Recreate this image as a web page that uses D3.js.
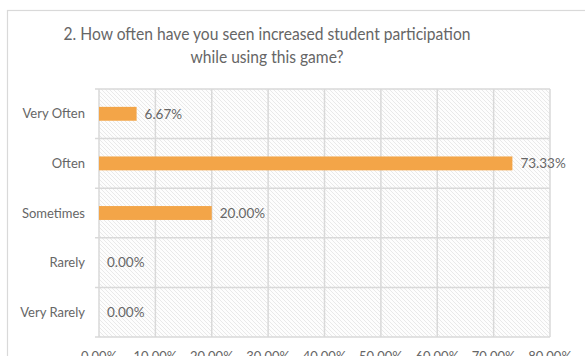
<!DOCTYPE html>
<html>
<head>
<meta charset="utf-8">
<script src="https://cdn.jsdelivr.net/npm/d3@7"></script>
<style>
  html, body { margin: 0; padding: 0; background: #fff; overflow: hidden; }
  svg { display: block; font-family: Lato, "Open Sans", sans-serif; }
</style>
</head>
<body>
<svg id="chart" width="585" height="356"></svg>
<script>
// Survey responses: share of respondents per answer
const categories = ["Very Often", "Often", "Sometimes", "Rarely", "Very Rarely"];
const values = [0.0667, 0.7333, 0.20, 0.0, 0.0];
const valueLabels = ["6.67%", "73.33%", "20.00%", "0.00%", "0.00%"];
const xTicks = [0, 0.1, 0.2, 0.3, 0.4, 0.5, 0.6, 0.7, 0.8];
const titleLines = ["2. How often have you seen increased student participation", "while using this game?"];

const svg = d3.select("#chart");
const textColor = "#666666";
const gridColor = "#d9d9d9";
const barColor = "#f3a548";

const plot = { left: 99, right: 550, top: 89, bottom: 337 };

// Chart frame
svg.append("rect")
  .attr("x", 7.5).attr("y", 10.5)
  .attr("width", 600).attr("height", 400)
  .attr("fill", "#fff").attr("stroke", gridColor).attr("stroke-width", 1.2);

// Diagonal hatch fill for the plot area
const defs = svg.append("defs");
const pat = defs.append("pattern")
  .attr("id", "hatch").attr("patternUnits", "userSpaceOnUse")
  .attr("width", 4).attr("height", 4);
pat.append("rect").attr("width", 4).attr("height", 4).attr("fill", "#fdfdfd");
pat.append("path")
  .attr("d", "M-1,-1 L5,5 M-1,3 L1,5 M3,-1 L5,1")
  .attr("stroke", "#e6e6e6").attr("stroke-width", 0.9);

const x = d3.scaleLinear().domain([0, 0.8]).range([plot.left, plot.right]);
const y = d3.scaleBand().domain(categories).range([plot.top, plot.bottom]).paddingInner(0.72).paddingOuter(0.36);
const band = d3.scaleBand().domain(categories).range([plot.top, plot.bottom]);

svg.append("rect")
  .attr("x", plot.left).attr("y", plot.top)
  .attr("width", plot.right - plot.left).attr("height", plot.bottom - plot.top)
  .attr("fill", "url(#hatch)");

// Vertical gridlines
svg.append("g")
  .selectAll("line").data(xTicks).join("line")
  .attr("x1", d => x(d)).attr("x2", d => x(d))
  .attr("y1", plot.top).attr("y2", plot.bottom)
  .attr("stroke", gridColor).attr("stroke-width", 1.5);

// Horizontal category separators with small ticks to the left
const seps = categories.map(c => band(c)).concat([plot.bottom]);
svg.append("g")
  .selectAll("line").data(seps).join("line")
  .attr("x1", plot.left - 4).attr("x2", plot.right)
  .attr("y1", d => d).attr("y2", d => d)
  .attr("stroke", gridColor).attr("stroke-width", 1.5);

// Bars
svg.append("g")
  .selectAll("rect").data(values).join("rect")
  .attr("x", x(0))
  .attr("y", (d, i) => y(categories[i]))
  .attr("width", d => x(d) - x(0))
  .attr("height", y.bandwidth())
  .attr("fill", barColor);

// Data labels
svg.append("g")
  .selectAll("text").data(values).join("text")
  .attr("x", d => x(d) + 8)
  .attr("y", (d, i) => band(categories[i]) + band.bandwidth() / 2)
  .attr("dy", "0.35em")
  .attr("fill", textColor).attr("font-size", 13.5)
  .text((d, i) => valueLabels[i]);

// Category axis labels
svg.append("g")
  .selectAll("text").data(categories).join("text")
  .attr("x", plot.left - 14)
  .attr("y", d => band(d) + band.bandwidth() / 2)
  .attr("dy", "0.35em")
  .attr("text-anchor", "end")
  .attr("fill", textColor).attr("font-size", 13)
  .text(d => d);

// Value axis labels
const fmt = d3.format(".2%");
svg.append("g")
  .selectAll("text").data(xTicks).join("text")
  .attr("x", d => x(d))
  .attr("y", plot.bottom + 24)
  .attr("text-anchor", "middle")
  .attr("fill", textColor).attr("font-size", 13)
  .text(d => fmt(d));

// Title, condensed to a narrow set width
const titleWidths = [407, 153];
svg.append("g")
  .selectAll("text").data(titleLines).join("text")
  .attr("x", 267)
  .attr("y", (d, i) => 40 + i * 23)
  .attr("text-anchor", "middle")
  .attr("textLength", (d, i) => titleWidths[i])
  .attr("lengthAdjust", "spacingAndGlyphs")
  .attr("fill", textColor).attr("font-size", 17)
  .text(d => d);
</script>
</body>
</html>
